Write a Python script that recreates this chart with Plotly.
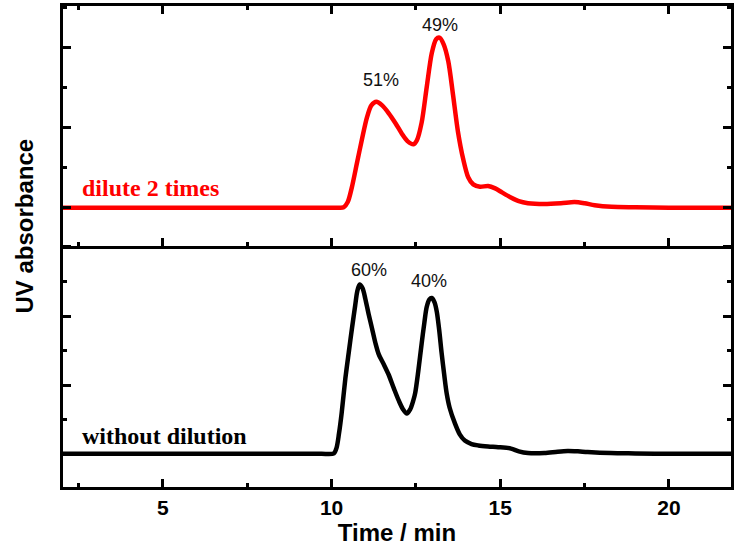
import plotly.graph_objects as go
from plotly.subplots import make_subplots

# Elution profiles (retention time in min, UV absorbance in arbitrary offset units)
time_diluted = [2.04, 4.0, 6.0, 8.0, 9.0, 9.8, 10.2, 10.36, 10.48, 10.60, 10.75, 10.90,
                11.05, 11.18, 11.33, 11.50, 11.69, 11.90, 12.08, 12.25, 12.43, 12.53,
                12.67, 12.82, 12.97, 13.10, 13.20, 13.32, 13.46, 13.60, 13.75, 13.90,
                14.05, 14.20, 14.40, 14.64, 14.85, 15.05, 15.30, 15.55, 15.82, 16.30,
                16.80, 17.20, 17.50, 17.80, 18.30, 19.00, 20.00, 21.00, 21.84]
abs_diluted = [0.0, 0.0, 0.0, 0.0, 0.0, 0.0, 0.0, 0.01, 0.14, 0.50, 1.10, 1.70,
               2.25, 2.55, 2.64, 2.55, 2.36, 2.10, 1.85, 1.66, 1.58, 1.68,
               2.12, 3.00, 3.85, 4.20, 4.24, 4.08, 3.65, 2.82, 1.88, 1.22,
               0.76, 0.58, 0.52, 0.54, 0.48, 0.38, 0.26, 0.16, 0.11, 0.09,
               0.11, 0.14, 0.11, 0.06, 0.02, 0.01, 0.0, 0.0, 0.0]

time_neat = [2.04, 4.0, 6.0, 8.0, 9.0, 9.7, 10.07, 10.15, 10.22, 10.30, 10.41, 10.51,
             10.61, 10.70, 10.76, 10.83, 10.92, 11.00, 11.10, 11.20, 11.30, 11.40,
             11.55, 11.69, 11.85, 11.99, 12.12, 12.23, 12.33, 12.42, 12.48, 12.57,
             12.67, 12.75, 12.82, 12.90, 12.97, 13.05, 13.12, 13.19, 13.26, 13.34,
             13.41, 13.50, 13.66, 13.80, 13.95, 14.15, 14.35, 14.64, 14.94, 15.32,
             15.55, 15.82, 16.31, 16.70, 17.00, 17.30, 17.59, 18.27, 19.00, 20.00, 21.84]
abs_neat = [0.02, 0.02, 0.02, 0.02, 0.02, 0.02, 0.03, 0.20, 0.60, 1.20, 2.20, 2.95,
            3.68, 4.30, 4.70, 4.91, 4.80, 4.50, 4.05, 3.64, 3.22, 2.89,
            2.60, 2.31, 1.90, 1.56, 1.30, 1.18, 1.30, 1.55, 1.78, 2.40,
            3.20, 3.80, 4.26, 4.48, 4.52, 4.40, 4.12, 3.60, 2.95, 2.30,
            1.78, 1.35, 0.89, 0.58, 0.40, 0.30, 0.26, 0.23, 0.21, 0.17,
            0.09, 0.04, 0.04, 0.08, 0.10, 0.09, 0.07, 0.04, 0.03, 0.02, 0.02]

# Peak area fractions and where they are written
pct_diluted = ["51%", "49%"]
pct_diluted_pos = [(11.46, 3.18), (13.22, 4.55)]
pct_neat = ["60%", "40%"]
pct_neat_pos = [(11.10, 5.32), (12.90, 5.01)]

x_range = [2.04, 21.84]
y_range_top = [-0.95, 5.03]
y_range_bottom = [-0.94, 6.03]

RED = "#ff0000"
BLACK = "#000000"
SANS = "Liberation Sans, Arial, sans-serif"
SERIF = "Liberation Serif, Times New Roman, serif"

fig = make_subplots(rows=2, cols=1, shared_xaxes=False, vertical_spacing=0)

fig.add_trace(go.Scatter(x=time_diluted, y=abs_diluted, mode="lines",
                         line=dict(color=RED, width=4.5, shape="spline", smoothing=0.8),
                         showlegend=False), row=1, col=1)
fig.add_trace(go.Scatter(x=time_neat, y=abs_neat, mode="lines",
                         line=dict(color=BLACK, width=4.5, shape="spline", smoothing=0.8),
                         showlegend=False), row=2, col=1)

common_x = dict(range=x_range, tick0=0, dtick=5, ticks="inside", ticklen=8, tickwidth=3,
                tickcolor=BLACK, showline=True, linewidth=3, linecolor=BLACK,
                showgrid=False, zeroline=False,
                minor=dict(dtick=2.5, tick0=0, ticks="inside", ticklen=4, tickwidth=3,
                           tickcolor=BLACK, showgrid=False))
fig.update_xaxes(**common_x, mirror="ticks", showticklabels=False, row=1, col=1)
fig.update_xaxes(**common_x, mirror=False, showticklabels=True,
                 tickfont=dict(family=SANS, size=21, color=BLACK, weight="bold"),
                 title=dict(text="Time / min", standoff=4,
                            font=dict(family=SANS, size=24, color=BLACK, weight="bold")),
                 row=2, col=1)

common_y = dict(tick0=0, dtick=2, ticks="inside", ticklen=8, tickwidth=3, tickcolor=BLACK,
                showline=True, linewidth=3, linecolor=BLACK, mirror="ticks",
                showgrid=False, zeroline=False, showticklabels=False,
                minor=dict(dtick=1, tick0=0, ticks="inside", ticklen=4, tickwidth=3,
                           tickcolor=BLACK, showgrid=False))
fig.update_yaxes(**common_y, range=y_range_top, row=1, col=1)
fig.update_yaxes(**common_y, range=y_range_bottom, row=2, col=1)

split = 0.5016
fig.update_layout(
    width=734, height=547,
    margin=dict(l=63, r=0, t=6, b=60),
    paper_bgcolor="white", plot_bgcolor="white",
    xaxis=dict(domain=[0, 1]), xaxis2=dict(domain=[0, 1]),
    yaxis=dict(domain=[split, 1]), yaxis2=dict(domain=[0, split]),
)

for txt, (px, py) in zip(pct_diluted, pct_diluted_pos):
    fig.add_annotation(x=px, y=py, xref="x", yref="y", text=txt, showarrow=False,
                       font=dict(family=SANS, size=18, color="#111111"))
for txt, (px, py) in zip(pct_neat, pct_neat_pos):
    fig.add_annotation(x=px, y=py, xref="x2", yref="y2", text=txt, showarrow=False,
                       font=dict(family=SANS, size=18, color="#111111"))

fig.add_annotation(x=2.54, y=0.49, xref="x", yref="y", text="dilute 2 times",
                   showarrow=False, xanchor="left", yanchor="middle",
                   font=dict(family=SERIF, size=24, color=RED, weight="bold"))
fig.add_annotation(x=2.54, y=0.52, xref="x2", yref="y2", text="without dilution",
                   showarrow=False, xanchor="left", yanchor="middle",
                   font=dict(family=SERIF, size=24, color=BLACK, weight="bold"))

fig.add_annotation(x=-0.058, y=0.542, xref="paper", yref="paper", text="UV absorbance",
                   showarrow=False, textangle=-90, xanchor="center", yanchor="middle",
                   font=dict(family=SANS, size=24, color=BLACK, weight="bold"))

fig.write_html("out.html")
